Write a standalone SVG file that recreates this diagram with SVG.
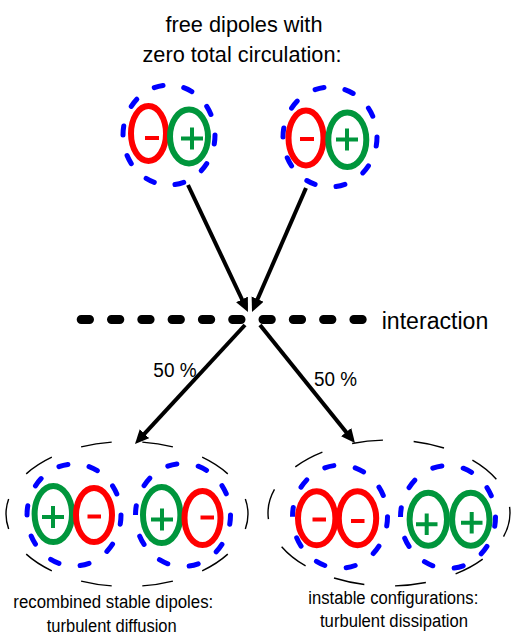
<svg xmlns="http://www.w3.org/2000/svg" width="518" height="640" viewBox="0 0 518 640">
<defs>
<style>
.t{font-family:"Liberation Sans",Arial,sans-serif;fill:#000;text-anchor:middle}
.neg{fill:none;stroke:#ff0000;stroke-width:6}
.pos{fill:none;stroke:#00963c;stroke-width:6}
.ms{stroke:#ff0000;stroke-width:4;fill:none}
.ps{stroke:#00963c;stroke-width:4;fill:none}
.blue{fill:none;stroke:#0000ff;stroke-width:5;stroke-linecap:round;stroke-dasharray:9 21}
.big{fill:none;stroke:#000;stroke-width:1.4;stroke-dasharray:5 5;stroke-dashoffset:-2.5}
.arr{stroke:#000;stroke-width:4;fill:none;marker-end:url(#ah)}
</style>
<marker id="ah" markerUnits="userSpaceOnUse" markerWidth="16" markerHeight="14" refX="4" refY="6.5" orient="auto">
<path d="M0,0 L14,6.5 L0,13 z" fill="#000"/>
</marker>
</defs>
<rect width="518" height="640" fill="#fff"/>

<g id="title">
<text class="t" x="244" y="32" font-size="22" textLength="157" lengthAdjust="spacingAndGlyphs">free dipoles with</text>
<text class="t" x="242" y="62" font-size="22" textLength="199" lengthAdjust="spacingAndGlyphs">zero total circulation:</text>
</g>

<g id="dipole-top-left">
<ellipse class="blue" cx="169" cy="135" rx="46" ry="50" pathLength="300"/>
<ellipse class="neg" cx="148.5" cy="133.5" rx="17.5" ry="27.5"/>
<ellipse class="pos" cx="189" cy="136.5" rx="19" ry="27"/>
<line class="ms" x1="145" y1="138" x2="159" y2="138"/>
<path class="ps" d="M181,138.5 H203 M192,127.5 V149.5"/>
</g>

<g id="dipole-top-right">
<ellipse class="blue" cx="330" cy="137" rx="47" ry="50" pathLength="300"/>
<ellipse class="neg" cx="306" cy="138" rx="17.5" ry="27.5"/>
<ellipse class="pos" cx="347.3" cy="139.7" rx="19" ry="27.3"/>
<line class="ms" x1="300" y1="139" x2="314" y2="139"/>
<path class="ps" d="M336,139.5 H358 M347,128.5 V150.5"/>
</g>

<g id="interaction">
<line x1="81.2" y1="319.5" x2="362.2" y2="319.5" stroke="#000" stroke-width="9" stroke-linecap="round" stroke-dasharray="8.3 22"/>
<text class="t" x="435" y="328.5" font-size="23" textLength="106.6" lengthAdjust="spacingAndGlyphs">interaction</text>
</g>

<g id="connectors">
<line class="arr" x1="188" y1="185" x2="243.7" y2="303"/>
<line class="arr" x1="306" y1="188" x2="256" y2="302.8"/>
<line class="arr" x1="245" y1="325" x2="141.8" y2="436.7"/>
<line class="arr" x1="260" y1="325" x2="348.7" y2="435.2"/>
<text class="t" x="175" y="376.5" font-size="20.5" textLength="43.3" lengthAdjust="spacingAndGlyphs">50 %</text>
<text class="t" x="335.5" y="386" font-size="20.5" textLength="43" lengthAdjust="spacingAndGlyphs">50 %</text>
</g>

<g id="recombined">
<path class="big" d="M127,441.5 A121,72.5 0 1 1 127,586.5 A121,72.5 0 1 1 127,441.5 Z" pathLength="100"/>
<ellipse class="blue" cx="74" cy="515" rx="47" ry="51" pathLength="300"/>
<ellipse class="pos" cx="53.3" cy="514" rx="18.7" ry="28"/>
<ellipse class="neg" cx="94" cy="515" rx="18" ry="27"/>
<path class="ps" d="M42,517 H64 M53,506 V528"/>
<line class="ms" x1="87.5" y1="516.5" x2="101" y2="516.5"/>
<ellipse class="blue" cx="183" cy="515" rx="47.5" ry="51.5" pathLength="300"/>
<ellipse class="pos" cx="161.7" cy="515" rx="18.7" ry="28"/>
<ellipse class="neg" cx="202.5" cy="518" rx="18" ry="27"/>
<path class="ps" d="M151,519.5 H173 M162,508.5 V530.5"/>
<line class="ms" x1="200.5" y1="517.5" x2="214" y2="517.5"/>
<text class="t" x="113.3" y="607.5" font-size="18" textLength="200" lengthAdjust="spacingAndGlyphs">recombined stable dipoles:</text>
<text class="t" x="111.7" y="631.5" font-size="18" textLength="130" lengthAdjust="spacingAndGlyphs">turbulent diffusion</text>
</g>

<g id="instable">
<path class="big" d="M389,440 A121,73 0 1 1 389,586 A121,73 0 1 1 389,440 Z" pathLength="100" style="stroke-dashoffset:-4"/>
<ellipse class="blue" cx="340" cy="516.7" rx="47.5" ry="51.5" pathLength="300"/>
<ellipse class="neg" cx="316.7" cy="518.3" rx="18.7" ry="27"/>
<ellipse class="neg" cx="357.5" cy="518.3" rx="18.7" ry="27"/>
<line class="ms" x1="312.5" y1="519.5" x2="326" y2="519.5"/>
<line class="ms" x1="351" y1="521" x2="364.5" y2="521"/>
<ellipse class="blue" cx="448" cy="517" rx="47.5" ry="51.5" pathLength="300"/>
<ellipse class="pos" cx="428.3" cy="519.2" rx="18.7" ry="26.5"/>
<ellipse class="pos" cx="470.8" cy="519.2" rx="18.7" ry="26.5"/>
<path class="ps" d="M416,524.3 H437.5 M426.7,513.5 V535"/>
<path class="ps" d="M461,522.7 H482.5 M471.7,512 V533.5"/>
<text class="t" x="393.3" y="603.5" font-size="18" textLength="170" lengthAdjust="spacingAndGlyphs">instable configurations:</text>
<text class="t" x="394" y="627" font-size="18" textLength="148" lengthAdjust="spacingAndGlyphs">turbulent dissipation</text>
</g>
</svg>
